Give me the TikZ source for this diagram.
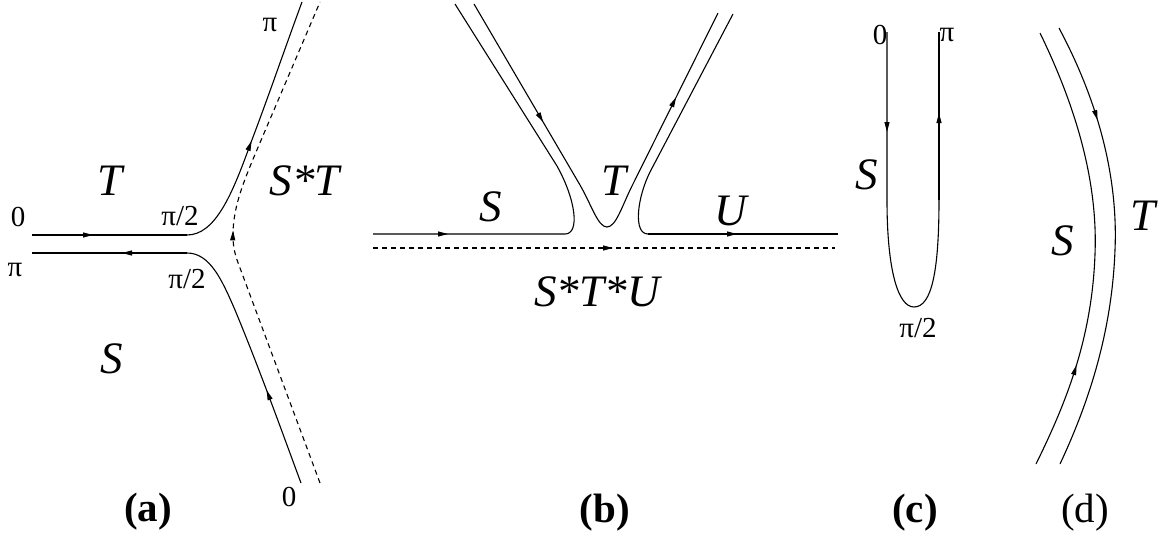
\documentclass[tikz,border=0pt]{standalone}
\usepackage{fontspec}
\setmainfont{Liberation Serif}
\usetikzlibrary{arrows.meta,decorations.markings}
\newcommand\smlab{\fontsize{29}{34}\selectfont}
\newcommand\bigit{\fontsize{45}{52}\selectfont\itshape}
\newcommand\capb{\fontsize{41}{48}\selectfont\bfseries}
\newcommand\capr{\fontsize{41}{48}\selectfont}
\tikzset{
  ln/.style={line width=1.1pt},
  dsh/.style={line width=1.1pt, dash pattern=on 5pt off 4pt},
  midarrow/.style={postaction={decorate},decoration={markings,
     mark=at position #1 with {\arrow{Triangle[length=10pt,width=5pt]}}}},
  lbl/.style={inner sep=0pt, anchor=center}
}
\begin{document}
\begin{tikzpicture}[x=1pt,y=-1pt]
\useasboundingbox (0,0) rectangle (1163,541);
% ---------- (a)
\draw[ln, midarrow=61pt] (32,235) -- (187,235);
\draw[ln, midarrow=120pt] (187,235) .. controls (215,235) and (232,195) .. (250,145) .. controls (268,98) and (285,48) .. (302,2);
\draw[ln, midarrow=65pt] (187,253) -- (32,253);
\draw[ln, midarrow=99pt] (301,483) .. controls (285,440) and (260,370) .. (235,310) .. controls (222,280) and (210,253) .. (187,253);
\draw[dsh, midarrow=268pt] (320,483) -- (240,268) .. controls (235,255) and (233,248) .. (233,235) .. controls (233,205) and (245,178) .. (262,138) -- (320,2);
\node[lbl] (a-pi) at (270,25) {\smlab π};
\node[lbl] (a-T) at (110,181) {\bigit T};
\node[lbl] (a-ST) at (305,181) {\bigit S*T};
\node[lbl] (a-0) at (18,217) {\smlab 0};
\node[lbl] (a-pi2u) at (180,216) {\smlab π/2};
\node[lbl] (a-pil) at (15,270) {\smlab π};
\node[lbl] (a-pi2l) at (187,279) {\smlab π/2};
\node[lbl] (a-S) at (112,359) {\bigit S};
\node[lbl] (a-0b) at (289,497) {\smlab 0};
\node[lbl] (a-cap) at (148,512) {\capb (a)};
% ---------- (b)
\draw[ln, midarrow=75pt] (373,234) -- (565,234) .. controls (580,234) and (576,200) .. (557,166) -- (455,4);
\draw[ln, midarrow=137pt] (474,4) -- (580,185) .. controls (592,206) and (598,227) .. (607,227) .. controls (616,227) and (622,206) .. (632,186);
\draw[ln, midarrow=99pt] (632,186) -- (718,13);
\draw[ln] (733,14) -- (650,172) .. controls (637,198) and (633,234) .. (648,234);
\draw[ln, midarrow=89pt] (648,234) -- (838,234);
\draw[dsh, midarrow=240pt] (373,248) -- (835,248);
\node[lbl] (b-S) at (491,207) {\bigit S};
\node[lbl] (b-T) at (614,181) {\bigit T};
\node[lbl] (b-U) at (731,211) {\bigit U};
\node[lbl] (b-STU) at (597,292) {\bigit S*T*U};
\node[lbl] (b-cap) at (605,513) {\capb (b)};
% ---------- (c)
\draw[ln, midarrow=100pt] (887,32) -- (887,200) .. controls (887,270) and (898,307) .. (914,307) .. controls (932,307) and (939,270) .. (939,200);
\draw[ln, midarrow=87pt] (939,200) -- (939,32);
\node[lbl] (c-0) at (880,35) {\smlab 0};
\node[lbl] (c-pi) at (947,35) {\smlab π};
\node[lbl] (c-S) at (867,175) {\bigit S};
\node[lbl] (c-pi2) at (918,328) {\smlab π/2};
\node[lbl] (c-cap) at (915,513) {\capb (c)};
% ---------- (d)
\draw[ln, midarrow=107pt] (1036,464) .. controls (1065,405) and (1092,340) .. (1095,254) .. controls (1098,180) and (1075,105) .. (1040,33);
\draw[ln, midarrow=100pt] (1059,28) .. controls (1100,105) and (1118,180) .. (1115,250) .. controls (1112,330) and (1090,400) .. (1060,464);
\node[lbl] (d-S) at (1063,241) {\bigit S};
\node[lbl] (d-T) at (1143,216) {\bigit T};
\node[lbl] (d-cap) at (1085,513) {\capr (d)};
\end{tikzpicture}
\end{document}
